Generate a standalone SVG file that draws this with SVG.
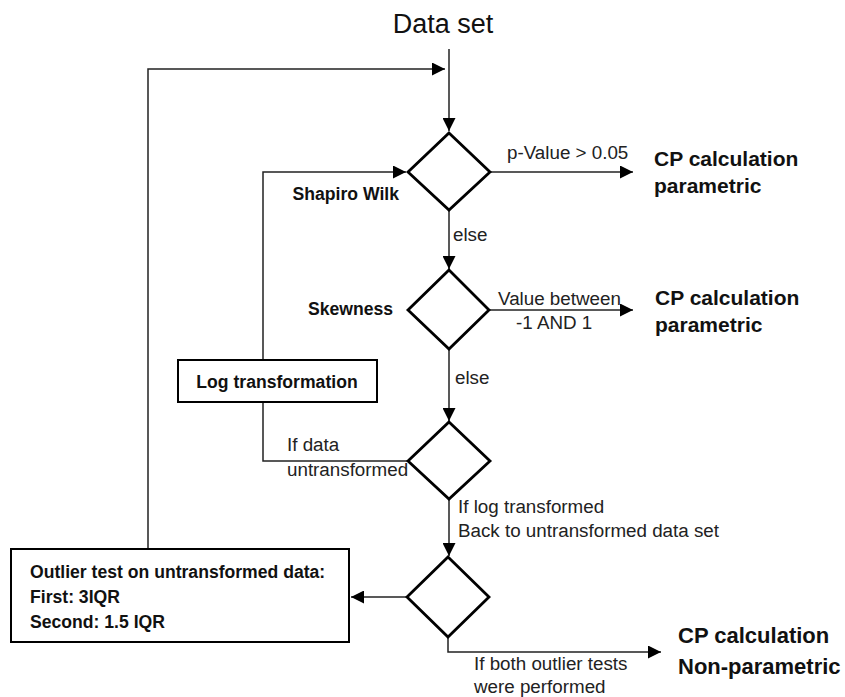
<svg xmlns="http://www.w3.org/2000/svg" width="845" height="697" viewBox="0 0 845 697">
<defs>
<marker id="ah" viewBox="0 0 10 10" refX="10" refY="5" markerWidth="13" markerHeight="13" markerUnits="userSpaceOnUse" orient="auto">
<path d="M0,0 L10,5 L0,10 Z" fill="#000"/>
</marker>
</defs>
<style>
.bg{fill:#fff}
.dia{fill:#fff;stroke:#000;stroke-width:2.8}
.box{fill:#fff;stroke:#000;stroke-width:2}
.con{fill:none;stroke:#222;stroke-width:1.5}
.arr{marker-end:url(#ah)}
.t{font-family:"Liberation Sans",Arial,sans-serif;font-size:18.8px;fill:#222}
.b{font-family:"Liberation Sans",Arial,sans-serif;font-size:17.6px;font-weight:bold;fill:#111}
.cp{font-family:"Liberation Sans",Arial,sans-serif;font-size:21px;font-weight:bold;fill:#111}
.cpl{font-family:"Liberation Sans",Arial,sans-serif;font-size:22px;font-weight:bold;fill:#111}
.title{font-family:"Liberation Sans",Arial,sans-serif;font-size:27px;fill:#111}
</style>
<rect class="bg" x="0" y="0" width="845" height="697"/>

<g id="connectors">
<path class="con arr" d="M449,49 L449,131"/>
<path class="con arr" d="M148,548 L148,69 L445,69"/>
<path class="con arr" d="M263,360 L263,172 L406,172"/>
<path class="con arr" d="M490,172 L633,172"/>
<path class="con arr" d="M449,210 L449,269"/>
<path class="con arr" d="M489,310 L633,310"/>
<path class="con arr" d="M449,349 L449,421"/>
<path class="con" d="M408,461 L263,461 L263,402"/>
<path class="con arr" d="M449,499 L449,556"/>
<path class="con arr" d="M407,597 L351,597"/>
<path class="con arr" d="M448,637 L448,652 L661,652"/>
</g>

<g id="dataset"><text class="title" x="443" y="33" text-anchor="middle">Data set</text></g>

<g id="d1">
<polygon class="dia" points="449,133 490,172 449,210 408,172"/>
<text class="b" x="399" y="200" text-anchor="end">Shapiro Wilk</text>
</g>
<g id="d2">
<polygon class="dia" points="449,270 489,310 449,349 408,310"/>
<text class="b" x="393" y="315" text-anchor="end">Skewness</text>
</g>
<g id="d3">
<polygon class="dia" points="449,422 490,461 449,499 408,461"/>
</g>
<g id="d4">
<polygon class="dia" points="448,557 489,597 448,637 407,597"/>
</g>

<g id="log">
<rect class="box" x="178" y="360" width="199" height="42"/>
<text class="b" x="277" y="388" text-anchor="middle">Log transformation</text>
</g>

<g id="outlier">
<rect class="box" x="11" y="549" width="338" height="93"/>
<text class="b" x="30" y="578">Outlier test on untransformed data:</text>
<text class="b" x="30" y="603">First: 3IQR</text>
<text class="b" x="30" y="628">Second: 1.5 IQR</text>
</g>

<g id="cp1">
<text class="cp" x="654" y="166">CP calculation</text>
<text class="cp" x="654" y="193">parametric</text>
</g>
<g id="cp2">
<text class="cp" x="655" y="305">CP calculation</text>
<text class="cp" x="655" y="332">parametric</text>
</g>
<g id="cp3">
<text class="cpl" x="678" y="643">CP calculation</text>
<text class="cpl" x="678" y="674">Non-parametric</text>
</g>

<g id="labels">
<text class="t" x="507" y="159">p-Value &gt; 0.05</text>
<text class="t" x="453" y="241">else</text>
<text class="t" x="498" y="305">Value between</text>
<text class="t" x="516" y="329">-1 AND 1</text>
<text class="t" x="455" y="384">else</text>
<text class="t" x="287" y="451">If data</text>
<text class="t" x="287" y="476">untransformed</text>
<text class="t" x="458" y="513">If log transformed</text>
<text class="t" x="458" y="537">Back to untransformed data set</text>
<text class="t" x="474" y="670">If both outlier tests</text>
<text class="t" x="474" y="693">were performed</text>
</g>
</svg>
